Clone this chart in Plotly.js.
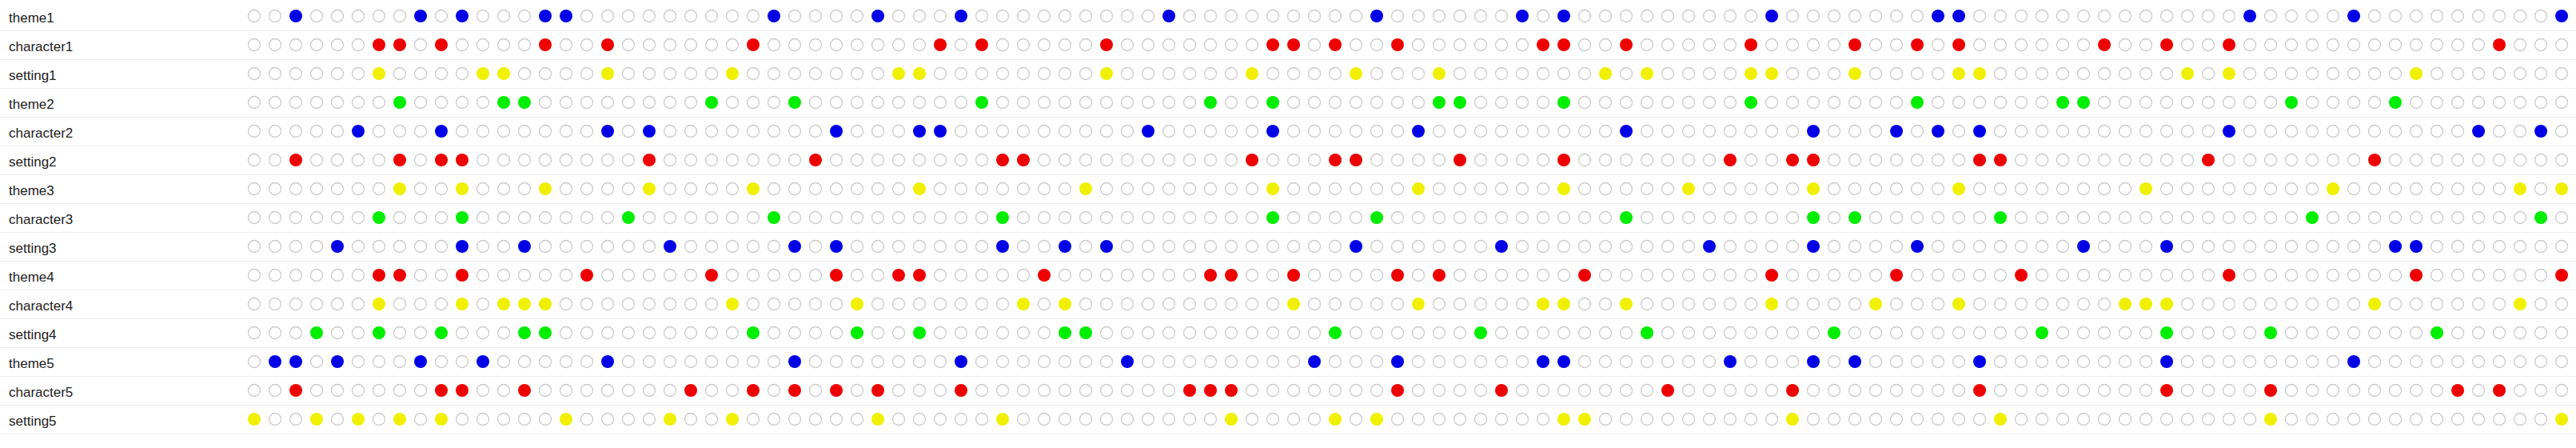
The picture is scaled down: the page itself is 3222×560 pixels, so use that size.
<!DOCTYPE html>
<html>
<head>
<meta charset="utf-8">
<script src="https://cdn.plot.ly/plotly-3.0.1.min.js"></script>
<style>
  html, body { margin: 0; padding: 0; background: #ffffff; }
  #chart { width: 3222px; height: 560px; }
</style>
</head>
<body>
<div id="chart"></div>
<script>
// ---- Data ----
const rowLabels = ['theme1', 'character1', 'setting1', 'theme2', 'character2', 'setting2',
  'theme3', 'character3', 'setting3', 'theme4', 'character4', 'setting4',
  'theme5', 'character5', 'setting5'];

const columnCount = 112;
const columns = Array.from({ length: columnCount }, (_, i) => i);

// filled column indices for each row
const theme1 = [2, 8, 10, 14, 15, 25, 30, 34, 44, 54, 61, 63, 73, 81, 82, 96, 101, 111];
const character1 = [6, 7, 9, 14, 17, 24, 33, 35, 41, 49, 50, 52, 55, 62, 63, 66, 72, 77, 80, 82, 89, 92, 95, 108];
const setting1 = [6, 11, 12, 17, 23, 31, 32, 41, 48, 53, 57, 65, 67, 72, 73, 77, 82, 83, 93, 95, 104];
const theme2 = [7, 12, 13, 22, 26, 35, 46, 49, 57, 58, 63, 72, 80, 87, 88, 98, 103];
const character2 = [5, 9, 17, 19, 28, 32, 33, 43, 49, 56, 66, 75, 79, 81, 83, 95, 107, 110];
const setting2 = [2, 7, 9, 10, 19, 27, 36, 37, 48, 52, 53, 58, 63, 71, 74, 75, 83, 84, 94, 102];
const theme3 = [7, 10, 14, 19, 24, 32, 40, 49, 56, 63, 69, 75, 82, 91, 100, 109, 111];
const character3 = [6, 10, 18, 25, 36, 49, 54, 66, 75, 77, 84, 99, 110];
const setting3 = [4, 10, 13, 20, 26, 28, 36, 39, 41, 53, 60, 70, 75, 80, 88, 92, 103, 104];
const theme4 = [6, 7, 10, 16, 22, 28, 31, 32, 38, 46, 47, 50, 55, 57, 64, 73, 79, 85, 95, 104, 111];
const character4 = [6, 10, 12, 13, 14, 23, 29, 37, 39, 50, 56, 62, 63, 66, 73, 78, 82, 90, 91, 92, 102, 109];
const setting4 = [3, 6, 9, 13, 14, 24, 29, 32, 39, 40, 52, 59, 67, 76, 86, 92, 97, 105];
const theme5 = [1, 2, 4, 8, 11, 17, 26, 34, 42, 51, 55, 62, 63, 71, 75, 77, 83, 92, 101];
const character5 = [2, 9, 10, 13, 21, 24, 26, 28, 30, 34, 45, 46, 47, 55, 60, 68, 74, 83, 92, 97, 106, 108];
const setting5 = [0, 3, 5, 7, 9, 15, 20, 23, 30, 36, 47, 52, 54, 63, 64, 74, 84, 97, 111];

const rowFilled = [theme1, character1, setting1, theme2, character2, setting2,
  theme3, character3, setting3, theme4, character4, setting4,
  theme5, character5, setting5];

// ---- Styles ----
const palette = ['#0000e6', '#ee0000', '#f0f000', '#00ee00'];
const emptyLine = '#cccccc';
const labelFont = { family: 'Liberation Sans, Arial, sans-serif', size: 17, color: '#222222' };

const traces = [];
rowFilled.forEach((filled, r) => {
  const set = new Set(filled);
  const empty = columns.filter(c => !set.has(c));
  traces.push({
    type: 'scatter', mode: 'markers',
    x: empty, y: empty.map(() => r),
    marker: { size: 15, color: '#ffffff', line: { color: emptyLine, width: 1.3 } },
    hoverinfo: 'skip'
  });
  traces.push({
    type: 'scatter', mode: 'markers',
    x: filled, y: filled.map(() => r),
    marker: { size: 16, color: palette[r % 4], line: { width: 0 } },
    hoverinfo: 'skip'
  });
});

const annotations = rowLabels.map((lab, r) => ({
  xref: 'paper', x: 0, xanchor: 'left', xshift: 9,
  yref: 'y', y: r, yanchor: 'middle', yshift: -2,
  text: lab, showarrow: false, font: labelFont
}));

const layout = {
  width: 3222, height: 560,
  margin: { l: 0, r: 0, t: 0, b: 0, pad: 0 },
  paper_bgcolor: '#ffffff', plot_bgcolor: '#ffffff',
  showlegend: false, hovermode: false,
  xaxis: { range: [-12.23, 111.69], visible: false, fixedrange: true },
  yaxis: {
    range: [15.0, -0.5556],
    tickmode: 'array', tickvals: rowLabels.map((_, i) => i + 0.5),
    showticklabels: false, ticks: '', showgrid: true,
    gridcolor: '#eeeeee', gridwidth: 1, zeroline: false, showline: false, fixedrange: true
  },
  annotations: annotations
};

Plotly.newPlot('chart', traces, layout, { staticPlot: true, displayModeBar: false });
</script>
</body>
</html>
